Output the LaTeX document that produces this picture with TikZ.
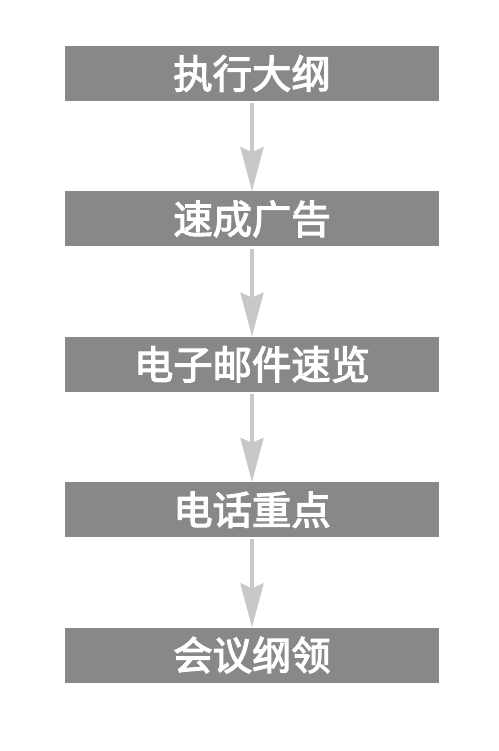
\documentclass[tikz,border=0pt]{standalone}
\usepackage{fontspec}
\newfontfamily\cjk[FakeBold=3]{Noto Sans CJK SC}
\usepackage{xcolor}
\definecolor{boxgray}{RGB}{136,136,136}
\definecolor{arrowgray}{RGB}{200,200,200}
\usetikzlibrary{arrows.meta, positioning}

\begin{document}
\begin{tikzpicture}[x=1bp, y=1bp,
    stagebox/.style={fill=boxgray, draw=none, text=white, inner sep=0pt,
      minimum width=374bp, minimum height=55bp,
      font=\cjk\fontsize{39.5}{42}\selectfont},
    flowarrow/.style={draw=arrowgray, line width=4bp,
      -{Stealth[length=44bp, width=23bp, inset=5bp]}},
    node distance=90bp]
  % Canvas
  \useasboundingbox (0,0) rectangle (499,-751);

  % --- Stages ---
  \node[stagebox] (outline) at (252,-73.5) {执行大纲};
  \node[stagebox, below=of outline] (ad) {速成广告};
  \node[stagebox, below=of ad] (email) {电子邮件速览};
  \node[stagebox, below=of email] (phone) {电话重点};
  \node[stagebox, below=of phone] (meeting) {会议纲领};

  % --- Connectors ---
  \draw[flowarrow] ([yshift=-2bp]outline.south) -- (ad.north);
  \draw[flowarrow] ([yshift=-2bp]ad.south) -- (email.north);
  \draw[flowarrow] ([yshift=-2bp]email.south) -- (phone.north);
  \draw[flowarrow] ([yshift=-2bp]phone.south) -- (meeting.north);
\end{tikzpicture}
\end{document}
